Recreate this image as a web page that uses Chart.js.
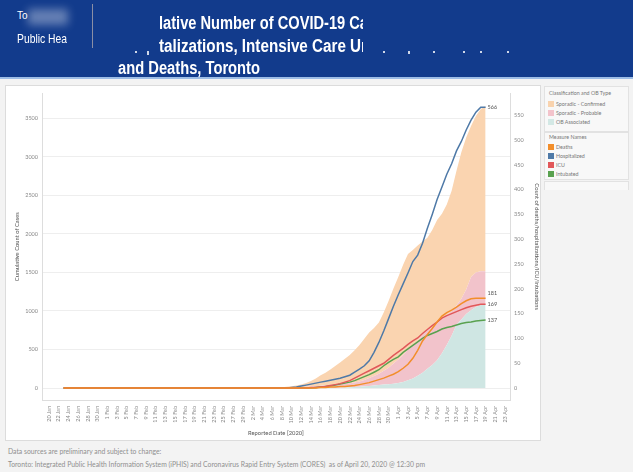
<!DOCTYPE html>
<html>
<head>
<meta charset="utf-8">
<script src="https://cdn.jsdelivr.net/npm/chart.js@4/dist/chart.umd.min.js"></script>
<style>
html, body { margin: 0; padding: 0; }
body { width: 633px; height: 472px; background: #f3f3f3; position: relative; overflow: hidden; font-family: Lato, "Liberation Sans", sans-serif; }
.header { position: absolute; left: 0; top: 0; width: 633px; height: 77px; background: #123b8c; border-bottom: 2px solid #9dbde6; }
.htxt { position: absolute; color: #fff; font-family: "Liberation Sans", Arial, sans-serif; font-weight: bold; font-size: 18px; line-height: 18px; white-space: nowrap; transform-origin: 0 0; }
.clip { position: absolute; overflow: hidden; height: 20px; }
.logo { position: absolute; color: #fff; font-family: "Liberation Sans", sans-serif; font-size: 13px; line-height: 13px; white-space: nowrap; transform-origin: 0 0; }
.blob { position: absolute; background: rgba(255,255,255,0.35); filter: blur(4px); }
.speck { position: absolute; width: 2px; height: 2px; background: rgba(255,255,255,0.8); }
.divider { position: absolute; left: 92px; top: 4px; width: 1px; height: 44px; background: rgba(190,180,175,0.7); }
.panel { position: absolute; left: 5px; top: 85px; width: 534px; height: 354px; background: #fff; border: 1px solid #dcdcdc; }
#chart { position: absolute; left: 5px; top: 86px; }
.lgbox { position: absolute; left: 544px; width: 83px; background: #f8f8f8; border: 1px solid #e2e2e2; }
.lgtitle { position: absolute; left: 4px; font-size: 5.3px; color: #777; line-height: 6px; white-space: nowrap; }
.item { position: absolute; left: 11px; font-size: 5.3px; color: #777; line-height: 6px; white-space: nowrap; }
.sw { position: absolute; left: -8px; top: 0; width: 6px; height: 6px; }
.foot { position: absolute; left: 8px; font-size: 6.8px; color: #8f8f8f; white-space: nowrap; line-height: 8px; }
</style>
</head>
<body>
<div class="header">
  <div class="blob" style="left:28px;top:9px;width:40px;height:16px"></div>
  <div class="logo" style="left:17px;top:9px;font-size:10px">To</div>
  <div class="logo fit" data-w="50" style="left:17px;top:32px">Public Hea</div>
  <div class="divider"></div>
  <div class="clip" style="left:159px;top:13px;width:204px;height:21px"><div class="htxt fit" data-w="209" style="left:0;top:1px">lative Number of COVID-19 Ca</div></div>
  <div class="speck" style="left:135px;top:51px"></div>
  <div class="speck" style="left:147px;top:51px;height:4px"></div>
  <div class="clip" style="left:159px;top:36px;width:204px;height:21px"><div class="htxt fit" data-w="208" style="left:0;top:1px">talizations, Intensive Care Ur</div></div>
  <div class="speck" style="left:383px;top:51px"></div>
  <div class="speck" style="left:408px;top:51px;height:3px"></div>
  <div class="speck" style="left:433px;top:51px"></div>
  <div class="speck" style="left:463px;top:51px"></div>
  <div class="speck" style="left:480px;top:51px"></div>
  <div class="speck" style="left:507px;top:51px"></div>
  <div class="htxt fit" data-w="142" style="left:118px;top:59px">and Deaths, Toronto</div>
</div>
<div class="panel"></div>
<canvas id="chart" width="536" height="353"></canvas>

<div class="lgbox" style="top:86px;height:44px">
  <div class="lgtitle" style="top:3px">Classification and OB Type</div>
  <div class="item" style="top:14px"><span class="sw" style="background:#f9d3ae"></span>Sporadic - Confirmed</div>
  <div class="item" style="top:23px"><span class="sw" style="background:#f3c3cb"></span>Sporadic - Probable</div>
  <div class="item" style="top:32px"><span class="sw" style="background:#d3e8e5"></span>OB Associated</div>
</div>
<div class="lgbox" style="top:132px;height:46px">
  <div class="lgtitle" style="top:1px">Measure Names</div>
  <div class="item" style="top:11px"><span class="sw" style="background:#f28e2b"></span>Deaths</div>
  <div class="item" style="top:20px"><span class="sw" style="background:#4e79a7"></span>Hospitalized</div>
  <div class="item" style="top:29px"><span class="sw" style="background:#e15759"></span>ICU</div>
  <div class="item" style="top:38px"><span class="sw" style="background:#59a14f"></span>Intubated</div>
</div>
<div class="lgbox" style="top:181px;height:8px;border-bottom:none"></div>

<div class="foot" style="top:447px">Data sources are preliminary and subject to change:</div>
<div class="foot" style="top:460px">Toronto: Integrated Public Health Information System (iPHIS) and Coronavirus Rapid Entry System (CORES)&nbsp; as of April 20, 2020 @ 12:30 pm</div>

<script>
// squeeze the condensed header texts to their width in the picture
document.querySelectorAll('.fit').forEach(el => {
    const w = el.getBoundingClientRect().width;
    el.style.transform = 'scaleX(' + (Number(el.dataset.w) / w) + ')';
});

// x axis: day number counted from 20 Jan 2020
const axisStart = new Date(2020, 0, 20);
const monthNames = ['Jan', 'Feb', 'Mar', 'Apr'];
const firstDataDay = 3;   // 23 Jan
const lastTickDay = 94;   // 23 Apr

function dayLabel(d) {
    const dt = new Date(axisStart.getFullYear(), axisStart.getMonth(), axisStart.getDate() + d);
    return dt.getDate() + ' ' + monthNames[dt.getMonth()];
}

// tick labels, every second day
const tickDays = [];
for (let d = 0; d <= lastTickDay; d += 2) tickDays.push(d);

// cumulative cases (left axis), one value per day from 23 Jan to 19 Apr
const obAssociated = [
    0, 0, 0, 0, 0, 0, 0, 0, 0, 0,
    0, 0, 0, 0, 0, 0, 0, 0, 0, 0,
    0, 0, 0, 0, 0, 0, 0, 0, 0, 0,
    0, 0, 0, 0, 0, 0, 0, 0, 0, 0,
    0, 0, 0, 0, 0, 0, 0, 0, 0, 0,
    0, 0, 0,
    1, 2, 3, 4, 5, 7, 10, 14, 18, 23, 28, 34, 40, 45, 50, 57, 65, 80, 100, 125,
    160, 200, 250, 300, 360, 450, 560, 680, 820, 890, 960, 1010, 1050, 1075, 1095
];
const sporadicProbable = [
    0, 0, 0, 0, 0, 0, 0, 0, 0, 0,
    0, 0, 0, 0, 0, 0, 0, 0, 0, 0,
    0, 0, 0, 0, 0, 0, 0, 0, 0, 0,
    0, 0, 0, 0, 0, 0, 0, 0, 0, 0,
    0, 0, 0, 0, 0,
    2, 3, 5, 8, 12, 16, 20, 25, 29, 33, 36, 40, 45, 49, 52, 58, 67, 82, 102, 121,
    145, 180, 215, 263, 305, 350, 400, 435, 450, 490, 500, 490, 480, 440, 385, 320,
    250, 270, 320, 430, 450, 440, 421
];
const sporadicConfirmed = [
    1, 1, 1, 1, 1, 1, 1,
    2, 2, 2, 2, 2, 2, 2, 2, 2, 2, 2, 2, 2, 2, 2, 2, 2, 2, 2, 2,
    3, 3, 3, 3, 3, 3, 3, 3, 3, 3,
    4, 4, 5, 5, 6, 7, 8, 9,
    10, 13, 17, 24, 33, 49, 70, 100, 135, 165, 201, 241, 280, 324, 368, 418, 475,
    535, 590, 625, 665, 755, 865, 970, 1070, 1170, 1240, 1230, 1240, 1210, 1200,
    1260, 1340, 1370, 1435, 1560, 1750, 1900, 1970, 1960, 2030, 2105, 2144
];

// cumulative counts (right axis), same days
const deaths = [
    0, 0, 0, 0, 0, 0, 0, 0, 0, 0,
    0, 0, 0, 0, 0, 0, 0, 0, 0, 0,
    0, 0, 0, 0, 0, 0, 0, 0, 0, 0,
    0, 0, 0, 0, 0, 0, 0, 0, 0, 0,
    0, 0, 0, 0, 0, 0, 0, 0, 0, 0,
    0, 0, 0,
    1, 1, 2, 2, 3, 3, 4, 5, 7, 9, 11, 14, 17, 20, 24, 28, 33, 40, 48, 60,
    76, 95, 108, 120, 133, 145, 152, 157, 163, 170, 176, 180, 181, 181, 181
];
const hospitalized = [
    0, 0, 0, 0, 0, 0, 0, 0, 0, 0,
    0, 0, 0, 0, 0, 0, 0, 0, 0, 0,
    0, 0, 0, 0, 0, 0, 0, 0, 0, 0,
    0, 0, 0, 0, 0, 0, 0, 0, 0, 0,
    0, 0, 0, 0, 0, 0, 0,
    1, 2, 4, 6, 8, 10, 12, 14, 16, 18, 20, 23, 26, 32, 38, 45, 55, 72, 92, 115,
    140, 165, 188, 210, 232, 255, 268, 292, 322, 350, 380, 405, 431, 452, 478, 497,
    520, 540, 556, 566, 566
];
const icu = [
    0, 0, 0, 0, 0, 0, 0, 0, 0, 0,
    0, 0, 0, 0, 0, 0, 0, 0, 0, 0,
    0, 0, 0, 0, 0, 0, 0, 0, 0, 0,
    0, 0, 0, 0, 0, 0, 0, 0, 0, 0,
    0, 0, 0, 0, 0, 0, 0, 0, 0, 0,
    0,
    1, 1, 2, 3, 5, 7, 9, 12, 15, 20, 25, 30, 35, 40, 45, 50, 58, 66, 73, 80,
    88, 95, 101, 110, 118, 126, 133, 141, 146, 150, 154, 158, 162, 165, 167, 169, 169
];
const intubated = [
    0, 0, 0, 0, 0, 0, 0, 0, 0, 0,
    0, 0, 0, 0, 0, 0, 0, 0, 0, 0,
    0, 0, 0, 0, 0, 0, 0, 0, 0, 0,
    0, 0, 0, 0, 0, 0, 0, 0, 0, 0,
    0, 0, 0, 0, 0, 0, 0, 0, 0, 0,
    0, 0,
    1, 2, 3, 4, 6, 8, 10, 12, 15, 19, 23, 27, 32, 37, 45, 52, 58, 63, 72, 79,
    86, 93, 100, 106, 110, 114, 119, 122, 124, 127, 130, 132, 133, 135, 136, 137
];

const leftTicks = [0, 500, 1000, 1500, 2000, 2500, 3000, 3500];
const rightTicks = [0, 50, 100, 150, 200, 250, 300, 350, 400, 450, 500, 550];

function toPoints(arr) {
    return arr.map((v, i) => ({ x: firstDataDay + i, y: v }));
}

function area(label, arr, color, fill, order) {
    return {
        label: label, data: toPoints(arr), yAxisID: 'yCases',
        backgroundColor: color, borderWidth: 0, pointRadius: 0,
        fill: fill, order: order
    };
}

function line(label, arr, color, order) {
    return {
        label: label, data: toPoints(arr), yAxisID: 'yCount',
        borderColor: color, borderWidth: 1.5, pointRadius: 0,
        fill: false, order: order
    };
}

const grey = '#888';
const tickFont = { size: 5.5, family: 'Lato' };
const titleFont = { size: 5.8, family: 'Lato' };

// value labels at the end of each line
const labelShift = { Deaths: -5 };
const endLabels = {
    id: 'endLabels',
    afterDatasetsDraw(chart) {
        const ctx = chart.ctx;
        ctx.save();
        ctx.font = '5.5px Lato';
        ctx.fillStyle = '#555';
        ctx.textBaseline = 'middle';
        chart.data.datasets.forEach((ds, i) => {
            if (ds.yAxisID !== 'yCount') return;
            const pts = chart.getDatasetMeta(i).data;
            const p = pts[pts.length - 1];
            ctx.fillText(String(ds.data[ds.data.length - 1].y), p.x + 2, p.y + (labelShift[ds.label] || 0));
        });
        ctx.restore();
    }
};

new Chart(document.getElementById('chart'), {
    type: 'line',
    data: {
        datasets: [
            // stacked bottom to top: OB, probable, confirmed
            area('OB Associated', obAssociated, '#cfe6e3', 'origin', 10),
            area('Sporadic - Probable', sporadicProbable, '#f2c3cb', '-1', 11),
            area('Sporadic - Confirmed', sporadicConfirmed, '#fad4b0', '-1', 12),
            line('Deaths', deaths, '#f28e2b', 1),
            line('ICU', icu, '#e15759', 2),
            line('Intubated', intubated, '#59a14f', 3),
            line('Hospitalized', hospitalized, '#4e79a7', 4)
        ]
    },
    options: {
        responsive: false,
        animation: false,
        layout: { padding: { top: 6, left: 0, right: 0, bottom: 0 } },
        plugins: { legend: { display: false }, tooltip: { enabled: false } },
        scales: {
            x: {
                type: 'linear', min: -1.44, max: 95.03,
                afterBuildTicks(s) { s.ticks = tickDays.map(v => ({ value: v })); },
                afterFit(s) { s.height = 39; },
                ticks: {
                    autoSkip: false, maxRotation: 90, minRotation: 90, padding: 6,
                    color: grey, font: tickFont,
                    callback: v => dayLabel(v)
                },
                grid: { display: false, drawTicks: false },
                border: { display: true, color: '#dddddd' },
                title: { display: true, text: 'Reported Date [2020]', color: '#555', font: titleFont, padding: 2 }
            },
            yCases: {
                position: 'left', stacked: true, min: -155, max: 3824,
                afterBuildTicks(s) { s.ticks = leftTicks.map(v => ({ value: v })); },
                afterFit(s) { s.width = 37; },
                ticks: { color: grey, font: tickFont, padding: 4, callback: v => String(v) },
                grid: { color: '#eeeeee', drawTicks: false },
                border: { display: true, color: '#dddddd' },
                title: { display: true, text: 'Cumulative Count of Cases', color: '#555', font: titleFont, padding: { top: 9, bottom: 0 } }
            },
            yCount: {
                position: 'right', min: -24, max: 594,
                afterBuildTicks(s) { s.ticks = rightTicks.map(v => ({ value: v })); },
                afterFit(s) { s.width = 31; },
                ticks: { color: grey, font: tickFont, padding: 4, callback: v => String(v) },
                grid: { display: false, drawTicks: false },
                border: { display: true, color: '#dddddd' },
                title: { display: true, text: 'Count of deaths/hospitalizations/ICU/Intubations', color: '#555', font: titleFont, padding: { top: 1, bottom: 0 } }
            }
        }
    },
    plugins: [endLabels]
});
</script>
</body>
</html>
